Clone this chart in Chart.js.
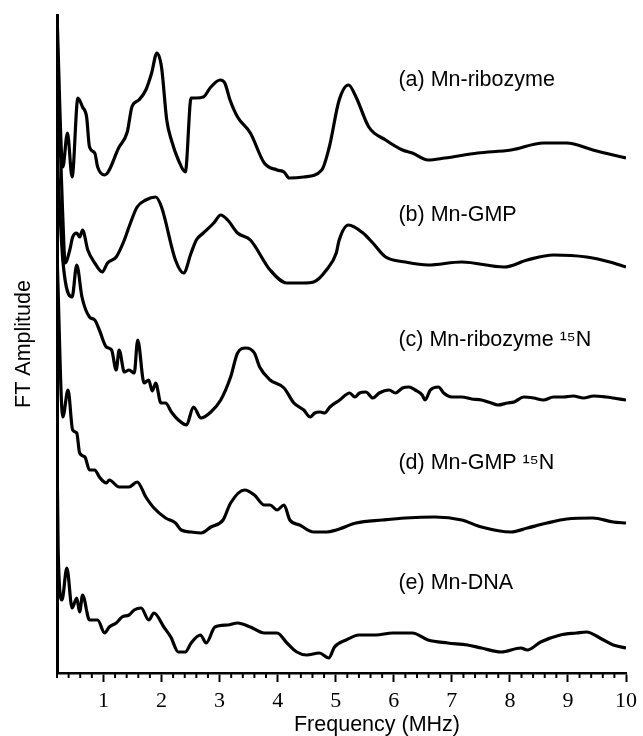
<!DOCTYPE html>
<html>
<head>
<meta charset="utf-8">
<script src="https://cdn.jsdelivr.net/npm/chart.js@4"></script>
<style>
  body { margin: 0; background: #fff; }
  #wrap { width: 643px; height: 736px; }
</style>
</head>
<body>
<div id="wrap"><canvas id="ftChart" width="643" height="736"></canvas></div>
<script>
// FT amplitude traces (arbitrary stacked units, 0 = axis)
const freqA = [0.2, 0.30, 0.38, 0.46, 0.56, 0.64, 0.71, 0.76, 0.85, 0.90, 1.02, 1.27, 1.41, 1.49, 1.61, 1.73, 1.83, 1.92, 2.00, 2.09, 2.17, 2.29, 2.41, 2.51, 2.60, 2.72, 2.85, 3.01, 3.09, 3.18, 3.31, 3.53, 3.77, 3.99, 4.11, 4.20, 4.45, 4.76, 4.89, 5.06, 5.22, 5.35, 5.57, 5.86, 6.15, 6.32, 6.59, 6.88, 7.45, 8.02, 8.58, 8.98, 9.43, 9.78, 10.0];
const ampA  = [658, 506, 540, 496, 575, 566, 556, 526, 520, 506, 498, 526, 541, 566, 573, 583, 600, 620, 606, 553, 533, 513, 501, 575, 575, 576, 586, 593, 590, 573, 556, 540, 510, 503, 501, 495, 496, 503, 526, 573, 588, 576, 546, 533, 523, 520, 513, 515, 520, 523, 530, 530, 523, 518, 515];

const freqB = [0.2, 0.30, 0.34, 0.42, 0.47, 0.54, 0.59, 0.64, 0.73, 0.85, 0.98, 1.07, 1.22, 1.36, 1.44, 1.58, 1.73, 1.90, 2.00, 2.24, 2.38, 2.51, 2.60, 2.72, 2.90, 3.02, 3.14, 3.31, 3.53, 3.87, 4.16, 4.45, 4.62, 4.84, 5.01, 5.06, 5.22, 5.47, 5.64, 5.86, 6.20, 6.59, 7.17, 7.90, 8.30, 8.75, 9.32, 9.72, 10.0];
const ampB  = [620, 456, 410, 423, 436, 440, 436, 443, 423, 410, 401, 410, 416, 433, 446, 466, 473, 476, 466, 413, 400, 420, 433, 440, 450, 458, 453, 440, 433, 403, 390, 390, 391, 403, 420, 433, 448, 440, 430, 416, 411, 408, 411, 406, 413, 418, 416, 411, 406];

const freqC = [0.2, 0.30, 0.46, 0.54, 0.63, 0.76, 0.85, 0.93, 1.05, 1.14, 1.22, 1.27, 1.36, 1.44, 1.53, 1.59, 1.70, 1.78, 1.84, 1.90, 1.99, 2.07, 2.17, 2.29, 2.43, 2.55, 2.68, 2.85, 3.02, 3.19, 3.31, 3.45, 3.60, 3.69, 3.87, 4.11, 4.28, 4.45, 4.56, 4.64, 4.73, 4.81, 4.90, 5.07, 5.24, 5.33, 5.41, 5.52, 5.64, 5.75, 5.92, 6.03, 6.15, 6.26, 6.37, 6.49, 6.54, 6.63, 6.77, 6.86, 7.00, 7.17, 7.34, 7.51, 7.68, 7.79, 7.96, 8.07, 8.24, 8.41, 8.58, 8.75, 8.92, 9.09, 9.27, 9.44, 9.66, 9.78, 10.0];
const ampC  = [520, 413, 376, 408, 376, 356, 353, 343, 326, 323, 303, 323, 301, 303, 300, 333, 290, 293, 282, 290, 270, 270, 261, 253, 248, 266, 255, 261, 273, 296, 320, 325, 320, 306, 293, 285, 270, 263, 256, 260, 261, 260, 266, 273, 280, 276, 280, 281, 275, 280, 283, 280, 285, 286, 283, 278, 273, 283, 286, 280, 276, 276, 274, 273, 270, 268, 270, 271, 276, 275, 273, 276, 276, 277, 275, 277, 276, 275, 273];

const freqD = [0.2, 0.30, 0.39, 0.47, 0.54, 0.59, 0.68, 0.76, 0.85, 0.93, 1.05, 1.10, 1.27, 1.44, 1.58, 1.73, 1.87, 2.07, 2.24, 2.34, 2.51, 2.68, 2.85, 3.06, 3.19, 3.43, 3.60, 3.77, 3.87, 3.99, 4.11, 4.21, 4.38, 4.62, 4.84, 5.01, 5.35, 5.81, 6.20, 6.71, 7.17, 7.51, 8.02, 8.30, 8.64, 8.98, 9.43, 9.78, 10.0];
const ampD  = [420, 256, 283, 243, 240, 220, 216, 203, 203, 196, 190, 193, 186, 186, 191, 176, 165, 155, 150, 143, 141, 140, 146, 153, 170, 183, 178, 168, 168, 163, 168, 153, 148, 141, 141, 143, 150, 153, 155, 156, 153, 146, 141, 145, 150, 154, 155, 151, 150];

const freqE = [0.2, 0.22, 0.285, 0.37, 0.46, 0.54, 0.59, 0.64, 0.76, 0.90, 1.02, 1.10, 1.22, 1.32, 1.44, 1.53, 1.65, 1.78, 1.87, 2.04, 2.16, 2.29, 2.41, 2.51, 2.67, 2.77, 2.92, 3.14, 3.31, 3.53, 3.77, 3.99, 4.16, 4.33, 4.50, 4.72, 4.88, 4.98, 5.18, 5.40, 5.69, 5.98, 6.32, 6.59, 6.93, 7.27, 7.51, 7.85, 8.19, 8.30, 8.53, 8.87, 9.15, 9.32, 9.55, 9.78, 10.0];
const ampE  = [230, 123, 73, 105, 65, 75, 61, 78, 53, 53, 40, 46, 50, 56, 58, 63, 65, 53, 60, 46, 36, 21, 21, 30, 38, 30, 46, 48, 50, 46, 40, 40, 30, 21, 18, 20, 15, 26, 33, 38, 38, 40, 40, 33, 30, 28, 25, 21, 25, 23, 31, 38, 40, 41, 35, 28, 25];

// trace labels and where they sit
const seriesNames = ['(a) Mn-ribozyme', '(b) Mn-GMP', '(c) Mn-ribozyme \u00B9\u2075N', '(d) Mn-GMP \u00B9\u2075N', '(e) Mn-DNA'];
const labelFreq = 6.08;
const labelAmp = [593, 458, 333, 210, 90];

// axis ticks
const xTickValues = [1, 2, 3, 4, 5, 6, 7, 8, 9, 10];
const minorStep = 0.2;

const traces = [[freqA, ampA], [freqB, ampB], [freqC, ampC], [freqD, ampD], [freqE, ampE]];

const sansFont = '"Liberation Sans", Arial, Helvetica, sans-serif';

const datasets = traces.map((t, i) => ({
    label: seriesNames[i],
    data: t[0].map((f, j) => ({ x: f, y: t[1][j] })),
    borderColor: '#000',
    borderWidth: 3.2,
    pointRadius: 0,
    fill: false,
    cubicInterpolationMode: 'monotone'
}));

// minor ticks, trace labels and the x title
const decorations = {
    id: 'decorations',
    afterDraw(chart) {
        const ctx = chart.ctx;
        const xs = chart.scales.x;
        const ys = chart.scales.y;
        const bottom = chart.chartArea.bottom;

        ctx.save();
        ctx.strokeStyle = '#000';
        ctx.lineWidth = 2;
        for (let k = 1; k * minorStep < 10; k++) {
            const v = k * minorStep;
            if (Math.abs(v - Math.round(v)) < 1e-6) continue;
            const px = xs.getPixelForValue(v);
            ctx.beginPath();
            ctx.moveTo(px, bottom);
            ctx.lineTo(px, bottom + 5);
            ctx.stroke();
        }

        ctx.fillStyle = '#000';
        ctx.font = '21.5px ' + sansFont;
        ctx.textAlign = 'left';
        ctx.textBaseline = 'middle';
        seriesNames.forEach((name, i) => {
            ctx.fillText(name, xs.getPixelForValue(labelFreq), ys.getPixelForValue(labelAmp[i]));
        });

        ctx.textAlign = 'center';
        ctx.fillText('Frequency (MHz)', 377, 725);
        ctx.restore();
    }
};

new Chart(document.getElementById('ftChart'), {
    type: 'line',
    data: { datasets: datasets },
    options: {
        responsive: false,
        animation: false,
        layout: { padding: { top: 15, right: 10, left: 0, bottom: 0 } },
        plugins: {
            legend: { display: false },
            tooltip: { enabled: false }
        },
        scales: {
            x: {
                type: 'linear',
                min: 0.2,
                max: 10,
                afterBuildTicks: (scale) => {
                    scale.ticks = xTickValues.map(v => ({ value: v }));
                },
                afterFit: (scale) => { scale.height = 63; },
                border: { display: true, color: '#000', width: 2.5 },
                grid: {
                    display: true,
                    drawOnChartArea: false,
                    drawTicks: true,
                    tickLength: 9,
                    tickColor: '#000',
                    tickWidth: 2
                },
                ticks: {
                    color: '#000',
                    padding: 6,
                    maxRotation: 0,
                    autoSkip: false,
                    font: { family: '"Liberation Serif", "Times New Roman", serif', size: 22 }
                }
            },
            y: {
                min: 0,
                max: 658,
                afterFit: (scale) => { scale.width = 57; },
                border: { display: true, color: '#000', width: 3 },
                grid: { display: false },
                ticks: { display: false },
                title: {
                    display: true,
                    text: 'FT Amplitude',
                    color: '#000',
                    padding: { top: 11, bottom: 0 },
                    font: { family: sansFont, size: 21.5 }
                }
            }
        }
    },
    plugins: [decorations]
});
</script>
</body>
</html>
